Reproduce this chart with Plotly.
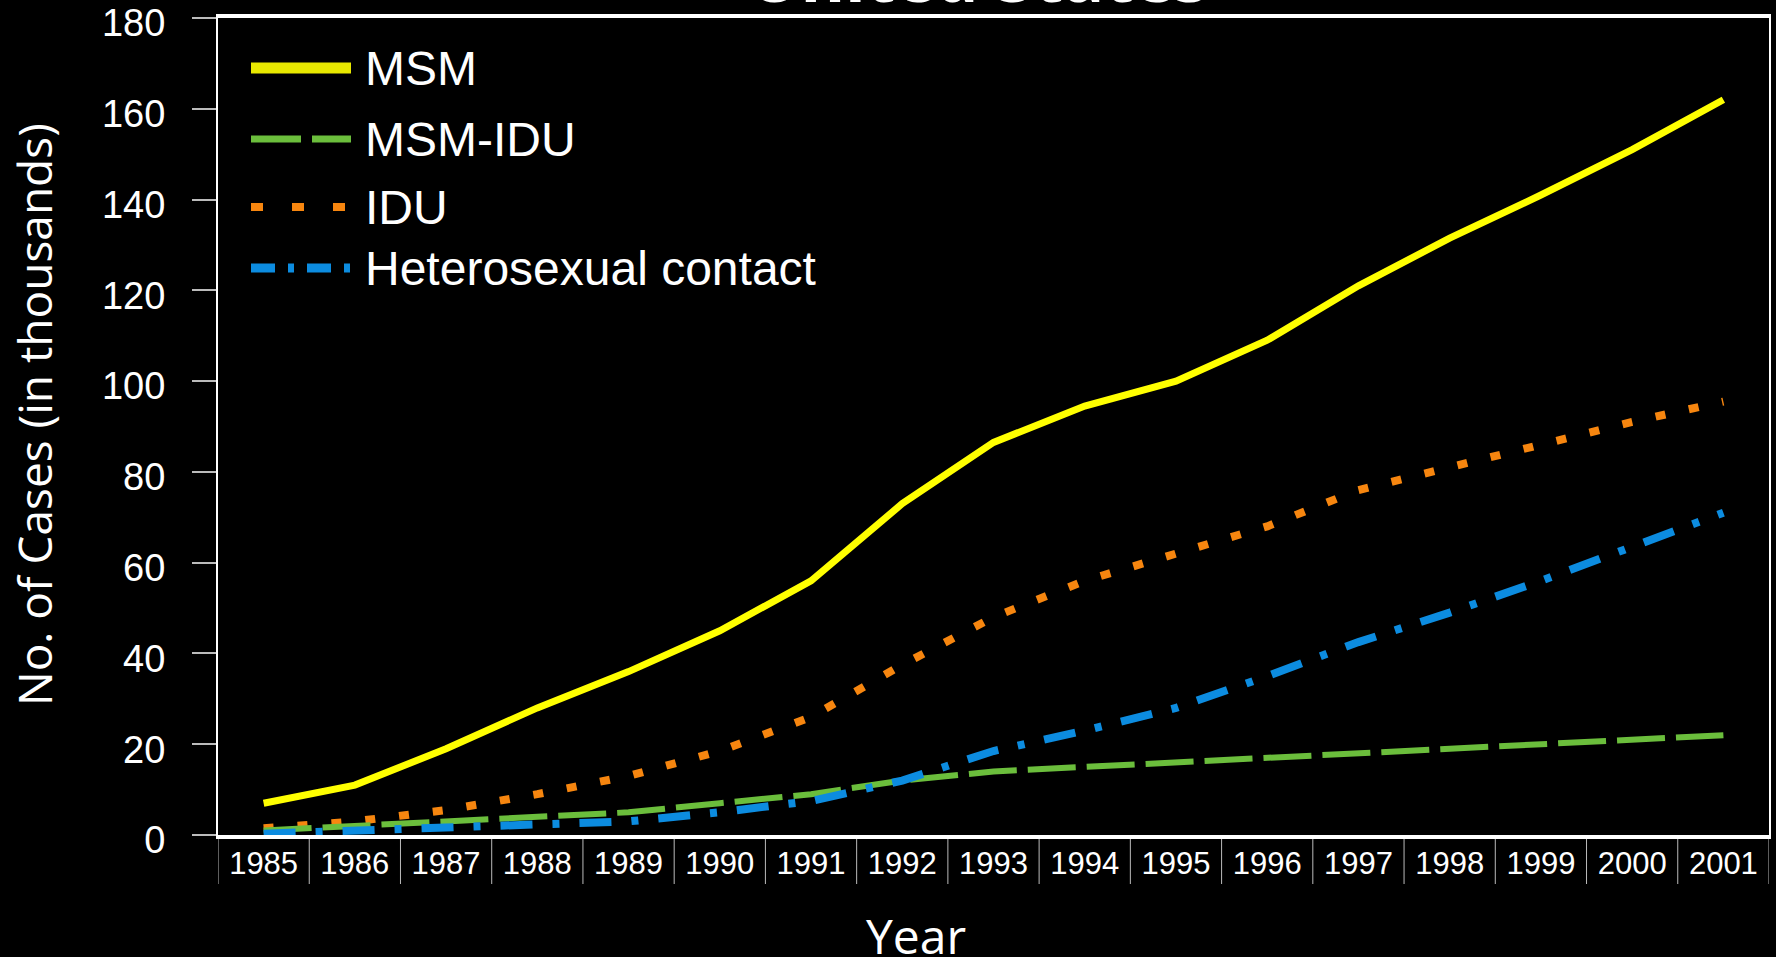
import plotly.graph_objects as go

# ---------------- data ----------------
years = ["1985", "1986", "1987", "1988", "1989", "1990", "1991", "1992", "1993",
         "1994", "1995", "1996", "1997", "1998", "1999", "2000", "2001"]
msm = [7, 11, 19, 28, 36, 45, 56, 73, 86.5, 94.5, 100, 109, 121, 131.5, 141, 151, 162]
msm_idu = [1, 2, 3, 4, 5, 7, 9, 12, 14, 15, 16, 17, 18, 19, 20, 21, 22]
idu = [1.5, 3, 5.5, 9, 13, 18.5, 26, 37.5, 48, 56, 62, 68, 76, 81, 86, 91, 95.5]
hetero = [0.3, 1, 1.3, 2, 3, 5, 7.5, 12, 18.5, 23, 28, 35, 42.5, 49, 56, 63.5, 71]
series_names = ["MSM", "MSM-IDU", "IDU", "Heterosexual contact"]
y_ticks = [0, 20, 40, 60, 80, 100, 120, 140, 160, 180]

# ---------------- styles ----------------
W, H = 1776, 957
L, R, T, B = 218, 1769, 18, 835
TICK_FONT = "Liberation Sans, Arial, sans-serif"
TITLE_FONT = "Open Sans, Lato, sans-serif"


def pxx(px):
    return (px - L) / (R - L)


def pxy(py):
    return (B - py) / (B - T)


fig = go.Figure()
fig.add_trace(go.Scatter(x=years, y=idu, mode="lines", name=series_names[2],
                         line=dict(color="#F7860F", width=8, dash="10px,24px")))
fig.add_trace(go.Scatter(x=years, y=msm_idu, mode="lines", name=series_names[1],
                         line=dict(color="#6BBE3C", width=6, dash="48px,11px")))
fig.add_trace(go.Scatter(x=years, y=hetero, mode="lines", name=series_names[3],
                         line=dict(color="#0C8CE0", width=8, dash="32px,20px,7px,20px")))
fig.add_trace(go.Scatter(x=years, y=msm, mode="lines", name=series_names[0],
                         line=dict(color="#FFFF00", width=7)))

# category separators below the x axis
for i in range(len(years) + 1):
    fig.add_shape(type="line", xref="x", yref="paper", x0=i - 0.5, x1=i - 0.5,
                  y0=0, y1=pxy(884), line=dict(color="#BBBBBB", width=1), layer="below")

# manual legend (long sample lines)
legend_styles = [
    dict(color="#E8E800", width=11, dash="solid", y=68),
    dict(color="#6BBE3C", width=7, dash="50px,11px", y=139),
    dict(color="#F7860F", width=8, dash="12px,29px", y=207),
    dict(color="#0C8CE0", width=9, dash="24px,13px,6px,13px", y=268),
]
for name, st in zip(series_names, legend_styles):
    fig.add_shape(type="line", xref="paper", yref="paper",
                  x0=pxx(251), x1=pxx(351), y0=pxy(st["y"]), y1=pxy(st["y"]),
                  line=dict(color=st["color"], width=st["width"], dash=st["dash"]))
    fig.add_annotation(text=name, xref="paper", yref="paper", x=pxx(363), y=pxy(st["y"]),
                       xanchor="left", yanchor="middle", showarrow=False,
                       font=dict(family=TICK_FONT, size=48, color="white"))

# title (cut off at the top in the reference)
fig.add_annotation(text="<b>United States</b>", xref="paper", yref="paper",
                   x=pxx(978), y=1, xanchor="center", yanchor="bottom", yshift=-6,
                   showarrow=False, font=dict(family=TITLE_FONT, size=68, color="white"))

# axis titles
fig.add_annotation(text="No. of Cases (in thousands)", xref="paper", yref="paper",
                   x=pxx(34), y=pxy(415), xanchor="center", yanchor="middle",
                   textangle=-90, showarrow=False,
                   font=dict(family=TITLE_FONT, size=46, color="white"))
fig.add_annotation(text="Year", xref="paper", yref="paper",
                   x=pxx(916), y=pxy(936), xanchor="center", yanchor="middle",
                   showarrow=False, font=dict(family=TITLE_FONT, size=48, color="white"))

fig.update_layout(
    width=W, height=H,
    margin=dict(l=L, r=W - R, t=T, b=H - B, autoexpand=False),
    paper_bgcolor="black", plot_bgcolor="black",
    showlegend=False,
)
fig.update_xaxes(
    type="category", range=[-0.5, len(years) - 0.5], automargin=False,
    showgrid=False, zeroline=False,
    showline=True, linecolor="white", linewidth=4, mirror=True,
    ticks="", ticklabelstandoff=-2,
    tickfont=dict(family=TICK_FONT, size=31, color="white"),
)
fig.update_yaxes(
    range=[0, 180], tickvals=y_ticks, automargin=False,
    showgrid=False, zeroline=False,
    showline=True, linecolor="white", linewidth=2, mirror=True,
    ticks="outside", ticklen=24, tickwidth=2, tickcolor="#BBBBBB",
    ticklabelstandoff=19, ticklabeloverflow="allow", ticklabelshift=5,
    tickfont=dict(family=TICK_FONT, size=38, color="white"),
)

fig.write_html(
    "out.html",
    config={"displayModeBar": False},
    post_script="document.body.style.margin='0';document.body.style.background='black';"
                "document.body.style.overflow='hidden';",
)
